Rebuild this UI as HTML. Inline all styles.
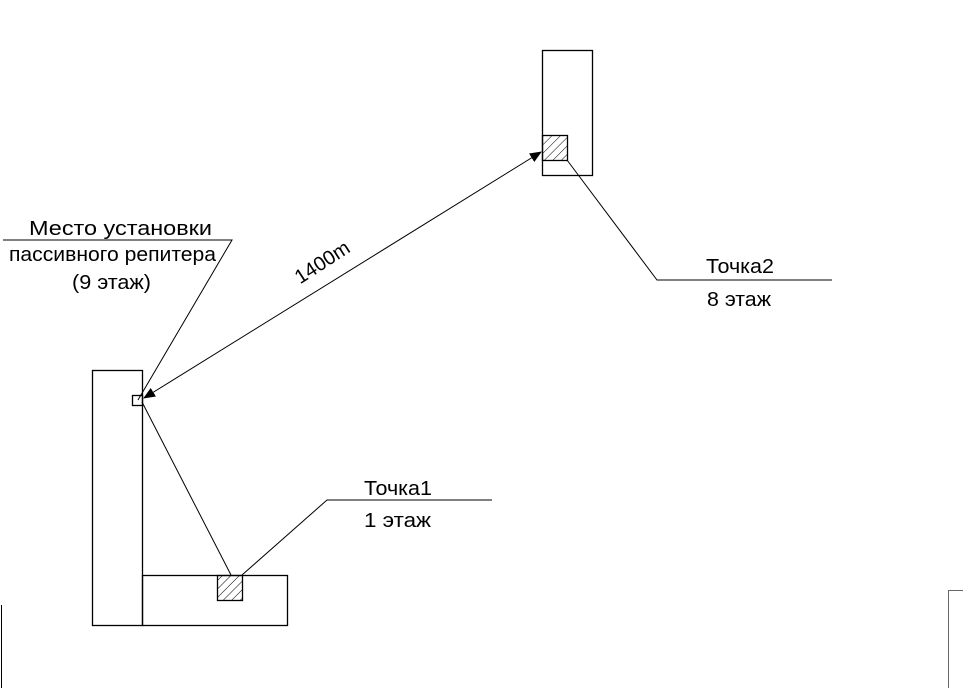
<!DOCTYPE html>
<html><head><meta charset="utf-8"><style>
html,body{margin:0;padding:0;background:#fff;}
svg{display:block;}
text{font-family:"Liberation Sans",Arial,sans-serif;font-size:20px;fill:#000;}
</style></head><body>
<svg width="963" height="688" viewBox="0 0 963 688" xmlns="http://www.w3.org/2000/svg">
<defs>
<pattern id="h" patternUnits="userSpaceOnUse" width="6" height="6" patternTransform="rotate(45)">
<line x1="0" y1="0" x2="0" y2="6" stroke="#000" stroke-width="1"/>
</pattern>
<marker id="a" markerWidth="12" markerHeight="10" refX="11" refY="5" orient="auto-start-reverse" markerUnits="userSpaceOnUse">
<path d="M0,0 L12,5 L0,10 z" fill="#000"/>
</marker>
</defs>
<g fill="none" stroke="#000" stroke-width="1.3">
<rect x="92.5" y="370.5" width="50" height="255"/>
<rect x="142.5" y="575.5" width="145" height="50"/>
<rect x="217.5" y="575.5" width="25" height="25" fill="url(#h)"/>
<rect x="132.5" y="395.5" width="10" height="10"/>
<rect x="542.5" y="50.5" width="50" height="125"/>
<rect x="542.5" y="135.5" width="25" height="25" fill="url(#h)"/>
</g>
<g fill="none" stroke="#000" stroke-width="1">
<line x1="144" y1="398" x2="541" y2="152" marker-start="url(#a)" marker-end="url(#a)"/>
<line x1="142" y1="402" x2="231" y2="575"/>
<polyline points="242,575 327,500 492,500"/>
<polyline points="567,160 657,280 832,280"/>
<polyline points="3,240 232,240 138,400"/>
<line x1="1.5" y1="605" x2="1.5" y2="688"/>
<polyline points="948.5,688 948.5,590.5 963,590.5" stroke="#666"/>
</g>
<text x="29" y="235" textLength="183" lengthAdjust="spacingAndGlyphs">Место установки</text>
<text x="9" y="261" textLength="207" lengthAdjust="spacingAndGlyphs">пассивного репитера</text>
<text x="72" y="289" textLength="79" lengthAdjust="spacingAndGlyphs">(9 этаж)</text>
<text x="322" y="269" text-anchor="middle" transform="rotate(-33 322 262)">1400m</text>
<text x="364" y="495" textLength="68" lengthAdjust="spacingAndGlyphs">Точка1</text>
<text x="364" y="527" textLength="67" lengthAdjust="spacingAndGlyphs">1 этаж</text>
<text x="706" y="273" textLength="68" lengthAdjust="spacingAndGlyphs">Точка2</text>
<text x="707" y="306" textLength="64" lengthAdjust="spacingAndGlyphs">8 этаж</text>
</svg>
</body></html>
